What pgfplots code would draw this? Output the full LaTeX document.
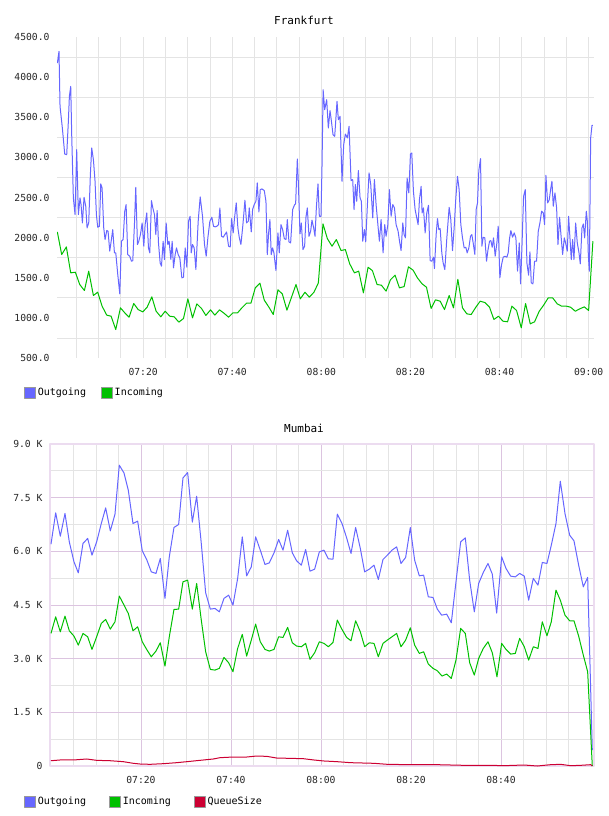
\documentclass[border=0pt]{standalone}
\usepackage{fontspec}
\setmainfont{DejaVu Sans Mono}
\usepackage{pgfplots}
\usepackage{pgfplotstable}
\pgfplotsset{compat=1.18}
\definecolor{cout}{RGB}{102,102,255}
\definecolor{cin}{RGB}{0,192,0}
\definecolor{cq}{RGB}{204,0,51}
\definecolor{gridg}{RGB}{228,228,228}
\definecolor{gridp}{RGB}{220,196,224}
\definecolor{framep}{RGB}{236,220,240}

\pgfplotstableread{
t v
0.75 4175
1.12 4320
1.35 3636
1.87 3366
2.40 3042
2.85 3034
3.22 3449
3.45 3760
3.75 3885
3.97 3283
4.34 2495
4.72 2287
5.09 3096
5.47 2287
5.84 2495
6.07 2412
6.37 2183
6.74 2503
7.12 2391
7.42 2121
7.79 2183
8.16 2785
8.46 3117
8.84 2972
9.21 2702
9.51 2287
9.81 2129
10.19 2142
10.49 2669
10.79 2619
11.16 2121
11.46 1976
11.84 2088
12.13 2080
12.51 1831
12.88 1976
13.18 2100
13.56 1810
13.86 1810
14.31 1540
14.76 1299
15.13 1955
15.51 1976
15.88 2329
16.18 2412
16.55 1789
17.00 1768
17.38 1706
17.68 1714
18.05 2162
18.35 2627
18.73 1914
19.03 1955
19.40 2038
19.78 2183
20.15 1893
20.45 2162
20.82 2308
21.20 1872
21.50 1810
21.87 2461
22.17 2371
22.55 2287
22.85 2038
23.15 2337
23.45 1934
23.82 1685
24.12 1644
24.49 1955
24.79 1727
25.17 2183
25.54 1914
25.84 1955
26.22 1727
26.52 1955
26.82 1623
27.19 1789
27.49 1872
27.87 1789
28.24 1748
28.69 1499
29.06 1507
29.44 1872
29.81 1631
30.19 2204
30.56 2266
30.79 1810
31.09 1914
31.46 1872
31.84 1602
32.36 2204
32.81 2507
33.33 2266
33.78 1914
34.16 1768
34.53 1997
34.98 2204
35.43 2254
35.80 2142
36.18 2134
36.55 2142
36.93 2162
37.23 2370
37.60 2017
37.98 2005
38.35 2038
38.73 2071
39.18 1893
39.55 1884
39.85 2237
40.22 2059
40.52 2246
40.90 2432
41.27 2121
41.57 2005
41.95 1914
42.40 2162
42.85 2466
43.22 2183
43.60 2204
43.82 2370
44.27 2071
44.57 2350
44.94 2412
45.32 2453
45.62 2681
45.99 2320
46.29 2598
46.67 2607
47.19 2586
47.57 2453
47.87 1789
48.17 2059
48.46 2225
48.76 1789
49.06 1872
49.36 1810
49.81 1590
50.26 2059
50.56 1810
50.94 2162
51.31 2100
51.69 1988
52.06 1976
52.36 2225
52.73 1947
53.11 1934
53.56 2350
54.01 2412
54.23 2420
54.61 2980
54.83 2702
55.21 2046
55.51 2183
55.88 1851
56.25 1893
56.55 2254
56.85 2370
57.23 2017
57.60 2080
57.90 2217
58.28 2121
58.58 2017
58.88 2370
59.25 2669
59.55 2266
59.92 2266
60.15 2889
60.40 3843
60.75 3594
61.20 3719
61.57 3366
61.95 3582
62.25 3457
62.62 3283
63.00 3262
63.52 3698
63.82 3470
64.20 3511
64.64 2702
65.02 3159
65.39 3291
65.84 3242
66.22 3387
66.67 2710
67.04 2723
67.34 2349
67.64 2661
67.94 2453
68.31 2835
68.69 2495
68.99 2453
69.29 1955
69.66 2100
69.96 1947
70.34 2412
70.71 2806
71.09 2661
71.54 2246
71.91 2723
72.29 2412
72.66 2183
73.03 1955
73.41 2225
73.86 1810
74.23 2162
74.53 2017
74.91 2154
75.28 2598
75.66 2266
76.03 2412
76.41 2370
76.78 2162
77.23 2080
77.53 1963
77.90 1839
78.28 2183
78.58 2038
78.88 1997
79.25 2744
79.63 2557
80.00 3042
80.30 3055
80.67 2577
81.05 2349
81.35 2266
81.72 2162
82.02 2474
82.40 2640
82.62 2308
82.92 2370
83.30 2059
83.67 2308
84.05 2403
84.42 1714
84.79 1706
85.17 1756
85.39 1615
85.77 2038
86.07 2237
86.37 2100
86.67 2113
87.04 1810
87.34 1685
87.72 1602
88.17 1997
88.69 2378
89.06 2225
89.44 1839
89.81 2121
90.19 2495
90.56 2764
90.93 2598
91.31 2162
91.68 1997
92.06 1872
92.43 1880
92.73 1810
93.11 1872
93.48 2017
93.78 2038
94.08 1934
94.46 1789
94.75 2349
95.05 2432
95.35 2835
95.73 2984
96.03 1893
96.33 2005
96.70 1997
97.08 1706
97.38 1839
97.75 1955
98.05 1963
98.35 1880
98.65 1997
99.02 1768
99.40 1934
99.70 2142
100.07 1499
100.45 1664
100.82 1756
101.20 1768
101.64 1756
101.94 1810
102.24 1988
102.54 2088
102.92 2005
103.29 2059
103.67 1997
104.04 1582
104.42 1934
104.72 1424
105.02 1872
105.39 2515
105.77 2598
106.14 1685
106.52 1532
106.82 1822
107.12 1436
107.49 1424
107.86 1706
108.31 1706
108.69 2080
109.06 2183
109.44 2329
109.81 2308
110.11 2162
110.41 2777
110.79 2432
111.16 2474
111.46 2598
111.76 2702
112.06 2391
112.43 2557
112.81 2370
113.11 1914
113.48 2254
113.78 2038
114.16 1789
114.53 1997
114.83 1934
115.20 1831
115.50 2266
115.80 1997
116.10 1727
116.40 1976
116.70 1727
117.08 2183
117.45 1934
117.83 1810
118.12 1673
118.50 2121
118.80 2171
119.10 1997
119.47 2329
119.70 2204
119.92 1789
120.15 1582
120.45 3242
120.75 3399
120.95 3399
}\fraout

\pgfplotstableread{
t v
0.75 2071
1.72 1789
2.77 1884
3.75 1561
4.79 1569
5.77 1416
6.82 1341
7.79 1582
8.84 1279
9.81 1320
10.79 1146
11.84 1034
12.81 1021
13.86 855
14.91 1125
15.88 1063
16.85 1009
17.90 1179
18.88 1104
19.93 1075
20.90 1133
21.95 1262
22.92 1083
23.97 1013
24.94 1083
25.99 1021
26.97 1013
28.02 947
29.06 992
30.04 1237
31.09 1000
32.06 1175
33.11 1117
34.08 1030
35.13 1100
36.10 1034
37.15 1100
38.13 1059
39.18 1009
40.15 1063
41.20 1063
42.17 1125
43.22 1183
44.20 1183
45.17 1374
46.22 1432
47.19 1221
48.24 1133
49.21 1042
50.26 1349
51.24 1299
52.28 1096
53.26 1250
54.31 1416
55.28 1237
56.33 1320
57.30 1258
58.35 1320
59.33 1436
60.37 2171
61.35 1988
62.40 1893
63.37 1976
64.42 1839
65.39 1851
66.37 1673
67.42 1561
68.39 1582
69.44 1312
70.49 1631
71.46 1589
72.51 1416
73.48 1407
74.53 1333
75.51 1474
76.55 1532
77.53 1374
78.58 1390
79.55 1636
80.60 1594
81.57 1498
82.62 1424
83.60 1382
84.64 1117
85.62 1225
86.67 1208
87.64 1104
88.69 1279
89.66 1125
90.64 1480
91.68 1125
92.66 1050
93.63 1042
94.68 1133
95.65 1208
96.70 1191
97.75 1133
98.73 980
99.77 1021
100.75 959
101.80 951
102.77 1146
103.82 1092
104.87 876
105.84 1179
106.89 926
107.86 951
108.91 1083
109.89 1158
110.93 1250
111.91 1250
112.95 1175
113.93 1146
114.98 1146
115.95 1133
117.00 1083
117.98 1112
119.02 1137
119.99 1092
120.95 1955
}\frain

\pgfplotstableread{
t v
0.00 6200
1.04 7075
2.07 6424
3.11 7058
4.07 6265
5.11 5706
6.07 5399
7.11 6220
8.15 6360
9.11 5893
10.15 6265
11.18 6779
12.15 7214
13.18 6572
14.22 7038
15.18 8407
16.22 8192
17.18 7709
18.22 6779
19.26 6843
20.29 6013
21.26 5773
22.29 5427
23.33 5382
24.29 5801
25.33 4684
26.29 5846
27.33 6667
28.37 6751
29.33 8052
30.37 8202
31.41 6817
32.37 7541
33.40 6220
34.37 4840
35.41 4385
36.44 4404
37.41 4310
38.44 4684
39.48 4776
40.44 4497
41.48 5243
42.51 6404
43.48 5315
44.51 5566
45.48 6404
46.51 6033
47.56 5633
48.51 5678
49.56 5957
50.59 6332
51.56 6033
52.59 6591
53.63 5957
54.59 5734
55.63 5614
56.59 6052
57.56 5446
58.59 5502
59.63 5985
60.67 6033
61.63 5790
62.67 5782
63.63 7038
64.67 6779
65.70 6376
66.67 5941
67.70 6667
68.74 6080
69.70 5427
70.74 5502
71.78 5614
72.74 5214
73.78 5773
74.74 5893
75.78 6033
76.81 6125
77.78 5661
78.81 5829
79.85 6667
80.81 5754
81.85 5315
82.81 5335
83.85 4729
84.89 4711
85.85 4385
86.81 4217
87.93 4245
88.96 4003
90.00 5150
91.04 6265
92.07 6376
93.04 5195
94.07 4310
95.04 5103
96.07 5410
97.11 5661
98.07 5363
99.04 4273
100.15 5846
101.11 5522
102.15 5307
103.18 5287
104.15 5382
105.18 5307
106.15 4636
107.18 5243
108.22 5055
109.18 5689
110.22 5661
111.18 6172
112.22 6779
113.18 7960
114.22 7058
115.26 6452
116.22 6293
117.26 5614
118.29 5008
119.26 5270
120.29 447
}\mumout

\pgfplotstableread{
t v
0.00 3706
1.04 4170
2.07 3751
3.11 4190
4.07 3779
5.11 3631
6.07 3380
7.11 3706
8.15 3612
9.11 3259
10.15 3612
11.18 3986
12.15 4097
13.18 3826
14.22 4031
15.18 4750
16.22 4500
17.18 4264
18.22 3779
19.26 3891
20.29 3472
21.26 3259
22.29 3053
23.33 3212
24.29 3444
25.33 2793
26.29 3612
27.33 4376
28.37 4385
29.33 5148
30.37 5195
31.41 4385
32.37 5103
33.40 4078
34.37 3193
35.41 2700
36.44 2681
37.41 2729
38.44 3036
39.48 2886
40.44 2634
41.48 3287
42.51 3678
43.48 3072
44.51 3519
45.48 3966
46.51 3472
47.56 3259
48.51 3212
49.56 3259
50.59 3612
51.56 3594
52.59 3874
53.63 3444
54.59 3352
55.63 3333
56.59 3427
57.56 2980
58.59 3165
59.63 3472
60.67 3427
61.63 3333
62.67 3454
63.63 4078
64.67 3817
65.70 3594
66.67 3500
67.70 4059
68.74 3751
69.70 3333
70.74 3444
71.78 3427
72.74 3053
73.78 3427
74.74 3519
75.78 3612
76.81 3706
77.78 3333
78.81 3519
79.85 3863
80.81 3380
81.85 3147
82.81 3193
83.85 2849
84.89 2729
85.85 2662
86.89 2514
87.93 2570
88.96 2449
90.00 2961
91.04 3846
92.07 3706
93.04 2886
94.07 2542
95.04 3008
96.07 3287
97.11 3472
98.07 3165
99.11 2494
100.15 3427
101.11 3259
102.15 3128
103.18 3147
104.15 3567
105.18 3333
106.15 2961
107.18 3333
108.22 3287
109.18 4031
110.22 3640
111.18 4031
112.22 4916
113.18 4636
114.22 4217
115.26 4059
116.22 4059
117.26 3631
118.29 3100
119.26 2634
120.29 0
}\mumin

\pgfplotstableread{
t v
0.00 148
2.00 168
4.96 168
7.93 196
10.15 158
13.11 148
16.07 121
18.30 75
19.78 56
22.00 47
24.96 65
27.93 93
30.89 130
33.85 168
36.07 196
37.56 233
40.52 251
43.48 251
45.70 279
47.93 270
50.15 223
53.11 214
56.07 205
58.44 168
60.67 140
63.56 121
66.60 93
71.78 75
74.74 47
79.93 37
85.85 37
91.78 19
97.71 19
100.67 9
105.11 28
108.07 0
111.04 37
113.26 47
115.48 9
117.70 19
119.93 37
120.29 0
}\mumq

\pgfplotsset{
  sqlegend/.style={
    legend image code/.code={\draw[##1,draw=black!40,line width=0.7pt,fill] (0pt,-5.5pt) rectangle (11pt,5.5pt);},
  },
}

\begin{document}
\begin{tikzpicture}[x=1pt,y=1pt]
\useasboundingbox (0,0) rectangle (608,-816);
\node[font=\fontsize{11}{13}\selectfont] at (304,-20) {Frankfurt};
\node[font=\fontsize{11}{13}\selectfont] at (304,-428) {Mumbai};

\begin{axis}[
  at={(57pt,-37pt)}, anchor=north west,
  scale only axis, width=537pt, height=321pt,
  xmin=0.67, xmax=121.2, ymin=500, ymax=4500,
  axis line style={draw=none},
  major tick length=0pt, minor tick length=0pt,
  xtick={20,40,60,80,100,120},
  xticklabels={07:20,07:40,08:00,08:20,08:40,09:00},
  minor xtick={5,10,...,120},
  ytick={500,1000,...,4500},
  yticklabels={500.0,1000.0,1500.0,2000.0,2500.0,3000.0,3500.0,4000.0,4500.0},
  minor ytick={750,1250,...,4250},
  xmajorgrids, xminorgrids, yminorgrids,
  major grid style={gridg, line width=0.8pt},
  minor grid style={gridg, line width=0.8pt},
  tick label style={font=\fontsize{9.7}{11}\selectfont, text=black!85},
  xticklabel style={yshift=-7pt},
  yticklabel style={xshift=-4pt},
  legend columns=-1,
  sqlegend,
  legend style={at={(-0.0615,-0.0872)}, anchor=north west, draw=none, fill=none,
    inner sep=0pt, font=\fontsize{10}{12}\selectfont,
    /tikz/every even column/.append style={column sep=13pt}},
  line join=round,
]
\addplot[cout, line width=1.0pt] table[x=t,y=v] {\fraout};
\addlegendentry{Outgoing}
\addplot[cin, line width=1.0pt] table[x=t,y=v] {\frain};
\addlegendentry{Incoming}
\end{axis}

\begin{axis}[
  at={(50pt,-444pt)}, anchor=north west,
  scale only axis, width=544pt, height=322pt,
  xmin=-0.22, xmax=120.67, ymin=0, ymax=9000,
  axis line style={draw=framep, line width=1.2pt},
  major tick length=0pt, minor tick length=0pt,
  xtick={20,40,60,80,100},
  xticklabels={07:20,07:40,08:00,08:20,08:40},
  minor xtick={5,10,15,25,30,35,45,50,55,65,70,75,85,90,95,105,110,115},
  ytick={0,1500,...,9000},
  yticklabels={0,1.5 K,3.0 K,4.5 K,6.0 K,7.5 K,9.0 K},
  minor ytick={750,2250,...,8250},
  xmajorgrids, xminorgrids, ymajorgrids, yminorgrids,
  major grid style={gridp, line width=0.8pt},
  minor grid style={gridg, line width=0.8pt},
  tick label style={font=\fontsize{9.7}{11}\selectfont, text=black!85},
  xticklabel style={yshift=-7pt},
  yticklabel style={xshift=-4pt},
  legend columns=-1,
  sqlegend,
  legend style={at={(-0.0478,-0.0901)}, anchor=north west, draw=none, fill=none,
    inner sep=0pt, font=\fontsize{10}{12}\selectfont,
    /tikz/every even column/.append style={column sep=21pt}},
  line join=round,
]
\addplot[cout, line width=1.0pt] table[x=t,y=v] {\mumout};
\addlegendentry{Outgoing}
\addplot[cin, line width=1.0pt] table[x=t,y=v] {\mumin};
\addlegendentry{Incoming}
\addplot[cq, line width=1.0pt] table[x=t,y=v] {\mumq};
\addlegendentry{QueueSize}
\end{axis}
\end{tikzpicture}
\end{document}
